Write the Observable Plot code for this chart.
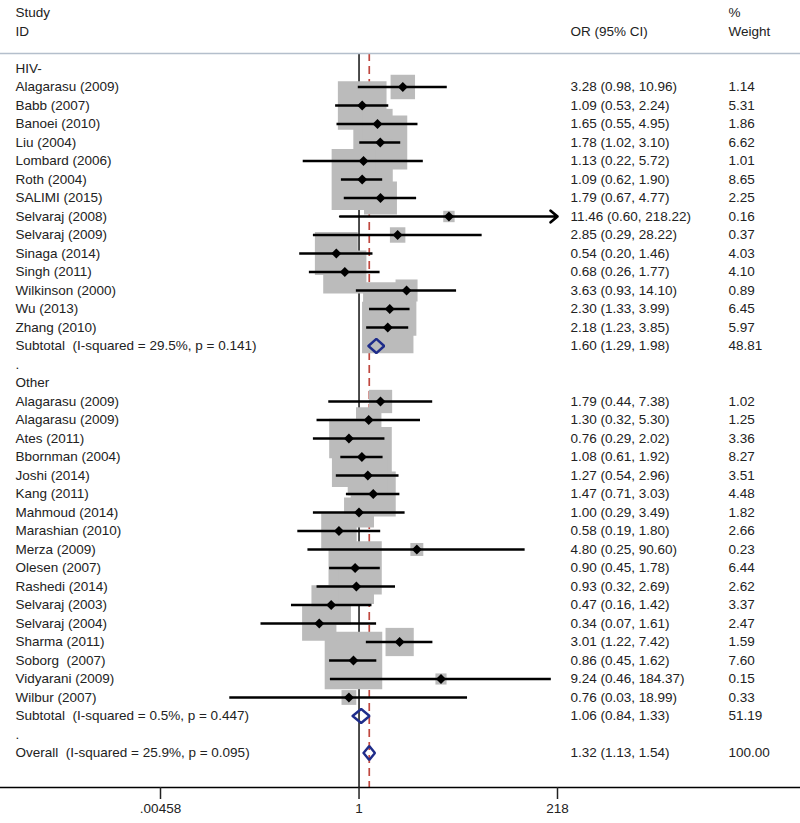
<!DOCTYPE html>
<html>
<head>
<meta charset="utf-8">
<script src="https://cdn.jsdelivr.net/npm/d3@7"></script>
<script src="https://cdn.jsdelivr.net/npm/@observablehq/plot@0.6"></script>
<style>
  html, body { margin: 0; padding: 0; background: #fff; }
  svg text { white-space: pre; }
</style>
</head>
<body>
<div id="chart"></div>
<script>
// ---------- data ----------
const hivStudies = ["Alagarasu (2009)", "Babb (2007)", "Banoei (2010)", "Liu (2004)", "Lombard (2006)", "Roth (2004)", "SALIMI (2015)", "Selvaraj (2008)", "Selvaraj (2009)", "Sinaga (2014)", "Singh (2011)", "Wilkinson (2000)", "Wu (2013)", "Zhang (2010)"];
const hivOR     = [3.28, 1.09, 1.65, 1.78, 1.13, 1.09, 1.79, 11.46, 2.85, 0.54, 0.68, 3.63, 2.30, 2.18];
const hivLower  = [0.98, 0.53, 0.55, 1.02, 0.22, 0.62, 0.67, 0.60, 0.29, 0.20, 0.26, 0.93, 1.33, 1.23];
const hivUpper  = [10.96, 2.24, 4.95, 3.10, 5.72, 1.90, 4.77, 218.22, 28.22, 1.46, 1.77, 14.10, 3.99, 3.85];
const hivWeight = [1.14, 5.31, 1.86, 6.62, 1.01, 8.65, 2.25, 0.16, 0.37, 4.03, 4.10, 0.89, 6.45, 5.97];

const otherStudies = ["Alagarasu (2009)", "Alagarasu (2009)", "Ates (2011)", "Bbornman (2004)", "Joshi (2014)", "Kang (2011)", "Mahmoud (2014)", "Marashian (2010)", "Merza (2009)", "Olesen (2007)", "Rashedi (2014)", "Selvaraj (2003)", "Selvaraj (2004)", "Sharma (2011)", "Soborg  (2007)", "Vidyarani (2009)", "Wilbur (2007)"];
const otherOR     = [1.79, 1.30, 0.76, 1.08, 1.27, 1.47, 1.00, 0.58, 4.80, 0.90, 0.93, 0.47, 0.34, 3.01, 0.86, 9.24, 0.76];
const otherLower  = [0.44, 0.32, 0.29, 0.61, 0.54, 0.71, 0.29, 0.19, 0.25, 0.45, 0.32, 0.16, 0.07, 1.22, 0.45, 0.46, 0.03];
const otherUpper  = [7.38, 5.30, 2.02, 1.92, 2.96, 3.03, 3.49, 1.80, 90.60, 1.78, 2.69, 1.42, 1.61, 7.42, 1.62, 184.37, 18.99];
const otherWeight = [1.02, 1.25, 3.36, 8.27, 3.51, 4.48, 1.82, 2.66, 0.23, 6.44, 2.62, 3.37, 2.47, 1.59, 7.60, 0.15, 0.33];

const groupNames = ["HIV-", "Other"];
const summaryLabels = ["Subtotal  (I-squared = 29.5%, p = 0.141)", "Subtotal  (I-squared = 0.5%, p = 0.447)", "Overall  (I-squared = 25.9%, p = 0.095)"];
const summaryOR     = [1.60, 1.06, 1.32];
const summaryLower  = [1.29, 0.84, 1.13];
const summaryUpper  = [1.98, 1.33, 1.54];
const summaryWeight = [48.81, 51.19, 100.00];

const headerLeft  = ["Study", "ID"];
const headerOR    = ["", "OR (95% CI)"];
const headerW     = ["%", "Weight"];

const tickValues = [0.00458, 1, 218];
const tickLabels = [".00458", "1", "218"];
const xDomain = [0.00458, 218];
const overallEstimate = summaryOR[2];

// ---------- build rows ----------
const fmt = v => v.toFixed(2);
const rows = [];
const studies = [];
const summaries = [];
let i = 0;
function summaryRow(si) {
  return {i, label: summaryLabels[si], or: summaryOR[si], lo: summaryLower[si], hi: summaryUpper[si],
    ci: `${fmt(summaryOR[si])} (${fmt(summaryLower[si])}, ${fmt(summaryUpper[si])})`, wt: fmt(summaryWeight[si])};
}
function addGroup(name, names, ors, los, his, ws, si) {
  rows.push({i: i++, label: name});
  names.forEach((n, k) => {
    const s = {i, label: n, or: ors[k], lo: los[k], hi: his[k], w: ws[k],
      ci: `${fmt(ors[k])} (${fmt(los[k])}, ${fmt(his[k])})`, wt: fmt(ws[k])};
    rows.push(s); studies.push(s); i++;
  });
  const s = summaryRow(si);
  rows.push(s); summaries.push(s); i++;
  rows.push({i: i++, label: "."});
}
addGroup(groupNames[0], hivStudies, hivOR, hivLower, hivUpper, hivWeight, 0);
addGroup(groupNames[1], otherStudies, otherOR, otherLower, otherUpper, otherWeight, 1);
{ const s = summaryRow(2); rows.push(s); summaries.push(s); i++; }

const header = headerLeft.map((t, k) => ({i: k - 3, left: t, or: headerOR[k], w: headerW[k]}));
const ticks = tickValues.map((v, k) => ({v, label: tickLabels[k]}));

const xMax = xDomain[1];
const inRange = studies.filter(d => d.hi <= xMax);
const outRange = studies.filter(d => d.hi > xMax).map(d => ({...d, hiC: xMax}));

const dh = 0.38;
const diamondPts = summaries.flatMap((d, k) => [
  {id: k, x: d.lo, y: d.i}, {id: k, x: d.or, y: d.i - dh},
  {id: k, x: d.hi, y: d.i}, {id: k, x: d.or, y: d.i + dh}, {id: k, x: d.lo, y: d.i}
]);

const yDomain = [-0.81, 38.865];

const chart = Plot.plot({
  width: 800,
  height: 823,
  marginLeft: 0,
  marginRight: 0,
  marginTop: 53,
  marginBottom: 36,
  style: {fontFamily: "'Liberation Sans', Arial, Helvetica, sans-serif", fontSize: "13.5px", background: "#fff", color: "#222"},
  x: {type: "log", domain: xDomain, range: [160, 557]},
  y: {type: "linear", domain: yDomain, reverse: true, axis: null},
  r: {type: "sqrt", domain: [0, 8.65], range: [2, 34.5]},
  marks: [
    Plot.ruleX([1], {stroke: "#111", strokeWidth: 1.5}),
    Plot.ruleX([overallEstimate], {stroke: "#c0483f", strokeWidth: 1.7, strokeDasharray: "8,5"}),
    Plot.dot(studies, {x: "or", y: "i", r: "w", symbol: "square", fill: "#bbbbbb", stroke: "none"}),
    Plot.ruleY(inRange, {y: "i", x1: "lo", x2: "hi", stroke: "#000", strokeWidth: 2.7}),
    Plot.arrow(outRange, {x1: "lo", x2: "hiC", y1: "i", y2: "i", stroke: "#000", strokeWidth: 2.7, headLength: 5, headAngle: 80}),
    Plot.dot(studies, {x: "or", y: "i", r: 4.5, symbol: "diamond2", fill: "#000", stroke: "none"}),
    Plot.line(diamondPts, {x: "x", y: "y", z: "id", stroke: "#1e2c8a", strokeWidth: 2.4, strokeLinejoin: "miter"}),
    Plot.text(rows, {y: "i", text: "label", frameAnchor: "left", dx: 15, textAnchor: "start", fill: "#222", fontSize: 13.5}),
    Plot.text(rows.filter(d => d.ci), {y: "i", text: "ci", frameAnchor: "left", dx: 570, textAnchor: "start", fill: "#222", fontSize: 13.5}),
    Plot.text(rows.filter(d => d.wt), {y: "i", text: "wt", frameAnchor: "left", dx: 728, textAnchor: "start", fill: "#222", fontSize: 13.5}),
    Plot.text(header, {y: "i", text: "left", frameAnchor: "left", dx: 15, textAnchor: "start", fill: "#222", fontSize: 13.5}),
    Plot.text(header, {y: "i", text: "or", frameAnchor: "left", dx: 570, textAnchor: "start", fill: "#222", fontSize: 13.5}),
    Plot.text(header, {y: "i", text: "w", frameAnchor: "left", dx: 728, textAnchor: "start", fill: "#222", fontSize: 13.5}),
    Plot.ruleY([yDomain[0]], {stroke: "#b4bfcc", strokeWidth: 1.5}),
    Plot.ruleY([yDomain[1]], {stroke: "#000", strokeWidth: 1.5}),
    Plot.axisX({ticks: tickValues, tickFormat: () => "", tickSize: 12, strokeWidth: 1.5}),
    Plot.text(ticks, {x: "v", text: "label", frameAnchor: "bottom", dy: 25, fill: "#222", fontSize: 13.5})
  ]
});
document.getElementById("chart").appendChild(chart);
</script>
</body>
</html>
